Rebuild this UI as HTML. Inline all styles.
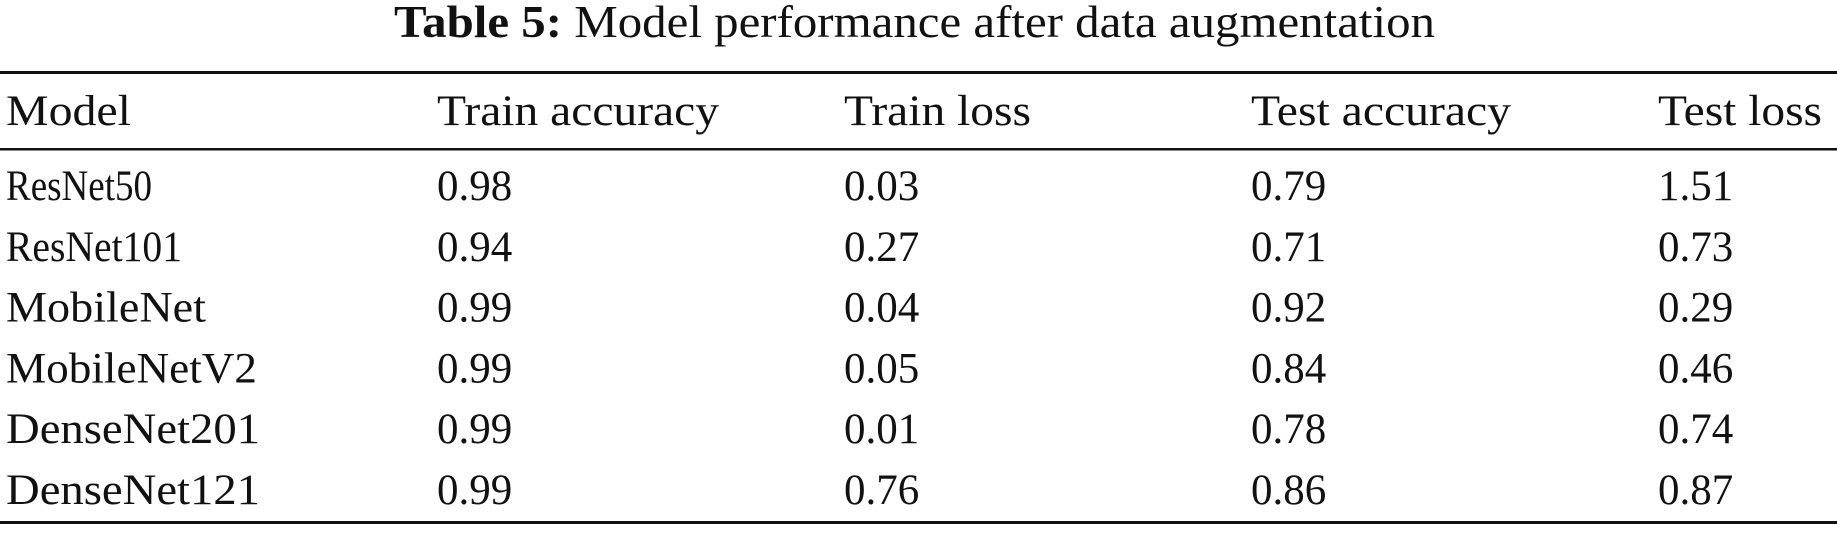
<!DOCTYPE html>
<html><head><meta charset="utf-8"><style>
html,body{margin:0;padding:0;background:#fff;}
svg{display:block;}
text{font-family:"Liberation Serif","Times New Roman",serif;fill:#111;}
</style></head><body>
<svg width="1837" height="533" viewBox="0 0 1837 533">
<text x="394" y="37" font-size="46" textLength="1041" lengthAdjust="spacingAndGlyphs"><tspan font-weight="bold">Table 5:</tspan>  Model performance after data augmentation</text>
<rect x="0" y="71" width="1837" height="3" fill="#111"/>
<g id="hdr"></g>
<rect x="0" y="148" width="1837" height="2.5" fill="#111"/>
<g id="body"></g>
<rect x="0" y="521" width="1837" height="3" fill="#111"/>
</svg>
<script>
const headers=["Model","Train accuracy","Train loss","Test accuracy","Test loss"];
const models=["ResNet50","ResNet101","MobileNet","MobileNetV2","DenseNet201","DenseNet121"];
const trainAcc=["0.98","0.94","0.99","0.99","0.99","0.99"];
const trainLoss=["0.03","0.27","0.04","0.05","0.01","0.76"];
const testAcc=["0.79","0.71","0.92","0.84","0.78","0.86"];
const testLoss=["1.51","0.73","0.29","0.46","0.74","0.87"];
const colX=[6,437,844,1251,1658];
const hdrW=[125,282,187,260,164];
const modelW=[146,176,200,251,254,254];
const NS="http://www.w3.org/2000/svg";
function txt(parent,x,y,s,w){const t=document.createElementNS(NS,"text");t.setAttribute("x",x);t.setAttribute("y",y);t.setAttribute("font-size","43");if(w){t.setAttribute("textLength",w);t.setAttribute("lengthAdjust","spacingAndGlyphs");}t.textContent=s;parent.appendChild(t);return t;}
const hdr=document.getElementById("hdr");
headers.forEach((h,i)=>{const t=txt(hdr,colX[i],125,h,hdrW[i]);

});
const body=document.getElementById("body");
const cols=[models,trainAcc,trainLoss,testAcc,testLoss];
models.forEach((m,r)=>{const y=200+60.8*r;
cols.forEach((c,i)=>{const t=txt(body,colX[i],y,c[r],i===0?modelW[r]:0);

});});
</script>
</body></html>
